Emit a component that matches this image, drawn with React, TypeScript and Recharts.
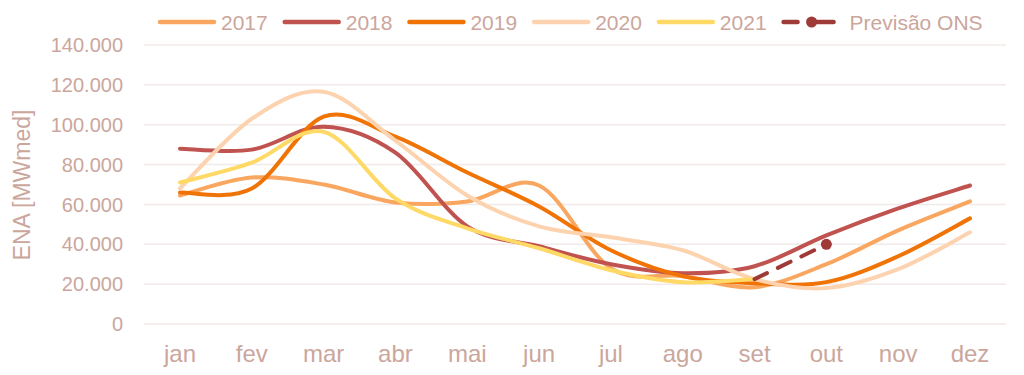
import React from 'react';
import { LineChart, Line, XAxis, YAxis, CartesianGrid, Legend } from 'recharts';

const months = ['jan', 'fev', 'mar', 'abr', 'mai', 'jun', 'jul', 'ago', 'set', 'out', 'nov', 'dez'];
const y2017 = [64500, 73500, 70000, 61000, 61500, 69500, 28000, 24000, 18500, 30000, 47000, 61500];
const y2018 = [88000, 87500, 99000, 86000, 49000, 39000, 30000, 25500, 29000, 44500, 58000, 69500];
const y2019 = [66000, 68000, 104000, 94000, 76000, 59000, 37000, 24000, 20500, 21000, 34000, 53000];
const y2020 = [68000, 103000, 116500, 92000, 64500, 49000, 43500, 37000, 22500, 18000, 27500, 46000];
const y2021 = [71000, 81000, 96500, 63000, 48000, 38000, 27000, 21000, 22500, null, null, null];
const previsao = [null, null, null, null, null, null, null, null, 22500, 40000, null, null];
const yTicks = [0, 20000, 40000, 60000, 80000, 100000, 120000, 140000];

const seriesDefs = [
  { key: 's2017', name: '2017', color: '#F9A760', values: y2017 },
  { key: 's2018', name: '2018', color: '#C0534F', values: y2018 },
  { key: 's2019', name: '2019', color: '#F07306', values: y2019 },
  { key: 's2020', name: '2020', color: '#FDD3AF', values: y2020 },
  { key: 's2021', name: '2021', color: '#FFD966', values: y2021 },
];
const forecastColor = '#9E3A37';
const textColor = '#CBA69C';
const gridColor = '#F2EAE8';

const data = months.map((m, i) => {
  const row: Record<string, any> = { month: m, prev: previsao[i] };
  seriesDefs.forEach((s) => { row[s.key] = s.values[i]; });
  return row;
});

// Excel-like smoothed line (Catmull-Rom via cubic Bezier)
function excelCurve(context: any) {
  let pts: [number, number][] = [];
  return {
    areaStart() {},
    areaEnd() {},
    lineStart() { pts = []; },
    point(x: number, y: number) { pts.push([+x, +y]); },
    lineEnd() {
      const n = pts.length;
      if (!n) return;
      context.moveTo(pts[0][0], pts[0][1]);
      if (n === 1) { context.lineTo(pts[0][0], pts[0][1]); return; }
      for (let i = 0; i < n - 1; i++) {
        const p0 = pts[Math.max(i - 1, 0)];
        const p1 = pts[i];
        const p2 = pts[i + 1];
        const p3 = pts[Math.min(i + 2, n - 1)];
        context.bezierCurveTo(
          p1[0] + (p2[0] - p0[0]) / 6, p1[1] + (p2[1] - p0[1]) / 6,
          p2[0] - (p3[0] - p1[0]) / 6, p2[1] - (p3[1] - p1[1]) / 6,
          p2[0], p2[1]
        );
      }
    },
  };
}

const fmt = (v: number) => String(v).replace(/\B(?=(\d{3})+(?!\d))/g, '.');

const FONT = "'Liberation Sans', Arial, sans-serif";

function measure(t: string, font: string) {
  const c = document.createElement('canvas').getContext('2d');
  if (!c) return t.length * 11;
  c.font = font;
  return c.measureText(t).width;
}

const LegendContent = (props: any) => {
  const payload = props.payload || [];
  const fontSize = 21;
  const sw = 58;
  let x = 158;
  const items = payload.map((p: any, i: number) => {
    const dashed = p.dataKey === 'prev';
    const tx = x + sw + (dashed ? 10 : 5);
    const w = measure(String(p.value), `${fontSize}px ${FONT}`);
    const g = (
      <g key={i}>
        {dashed ? (
          <>
            <line x1={x + 2} y1={22} x2={x + 16} y2={22} stroke={p.color} strokeWidth={4.5} strokeLinecap="round" />
            <line x1={x + 30} y1={22} x2={x + sw - 6} y2={22} stroke={p.color} strokeWidth={4.5} strokeLinecap="round" />
            <circle cx={x + 30} cy={22} r={5.5} fill={p.color} />
          </>
        ) : (
          <line x1={x + 2} y1={22} x2={x + sw - 2} y2={22} stroke={p.color} strokeWidth={4.5} strokeLinecap="round" />
        )}
        <text x={tx} y={22} dominantBaseline="central" fontSize={fontSize} fontFamily={FONT} fill={textColor}>{p.value}</text>
      </g>
    );
    x = tx + w + 15;
    return g;
  });
  return (
    <svg width={1024} height={40} style={{ display: 'block' }}>
      {items}
    </svg>
  );
};

const XTick = (props: any) => {
  const { x, y, payload } = props;
  return (
    <text x={x} y={y + 30} textAnchor="middle" fontSize={24} fontFamily={FONT} fill={textColor}>{payload.value}</text>
  );
};

const YLabel = () => (
  <text x={22} y={185} transform="rotate(-90, 22, 185)" textAnchor="middle" dominantBaseline="central" fontSize={23} fontFamily={FONT} fill={textColor}>ENA [MWmed]</text>
);

const ForecastDot = (props: any) => {
  const { cx, cy, index, value } = props;
  const lastIdx = previsao.reduce((acc: number, v, i) => (v != null ? i : acc), -1);
  if (index !== lastIdx || value == null) return <g key={`d${index}`} />;
  return <circle key={`d${index}`} cx={cx} cy={cy} r={5.5} fill={forecastColor} />;
};

export default function App() {
  return (
    <div style={{ position: 'absolute', left: 0, top: 0, width: 1024, height: 375, background: '#fff' }}>
      <LineChart width={1024} height={375} data={data} margin={{ top: 5, right: 18, bottom: 0, left: 0 }}>
        <CartesianGrid horizontal vertical={false} stroke={gridColor} strokeWidth={1.5} />
        <XAxis dataKey="month" height={51} tickLine={false} axisLine={false} tick={<XTick />} tickMargin={2} interval={0} padding={{ left: 36, right: 36 }} />
        <YAxis
          width={144}
          domain={[0, 140000]}
          ticks={yTicks}
          tickFormatter={fmt}
          tickLine={false}
          axisLine={false}
          tickMargin={15}
          tick={{ fill: textColor, fontSize: 20, fontFamily: FONT }}
          label={<YLabel />}
          interval={0}
        />
        <Legend verticalAlign="top" align="left" height={40} content={<LegendContent />} wrapperStyle={{ left: 0, top: 0, width: 1024 }} />
        {seriesDefs.map((s) => (
          <Line
            key={s.key}
            dataKey={s.key}
            name={s.name}
            stroke={s.color}
            strokeWidth={4}
            strokeLinecap="round"
            dot={false}
            activeDot={false}
            type={excelCurve as any}
            isAnimationActive={false}
          />
        ))}
        <Line
          dataKey="prev"
          name="Previsão ONS"
          stroke={forecastColor}
          strokeWidth={4}
          strokeLinecap="round"
          strokeDasharray="14 12"
          dot={<ForecastDot />}
          activeDot={false}
          type={excelCurve as any}
          isAnimationActive={false}
        />
      </LineChart>
    </div>
  );
}
